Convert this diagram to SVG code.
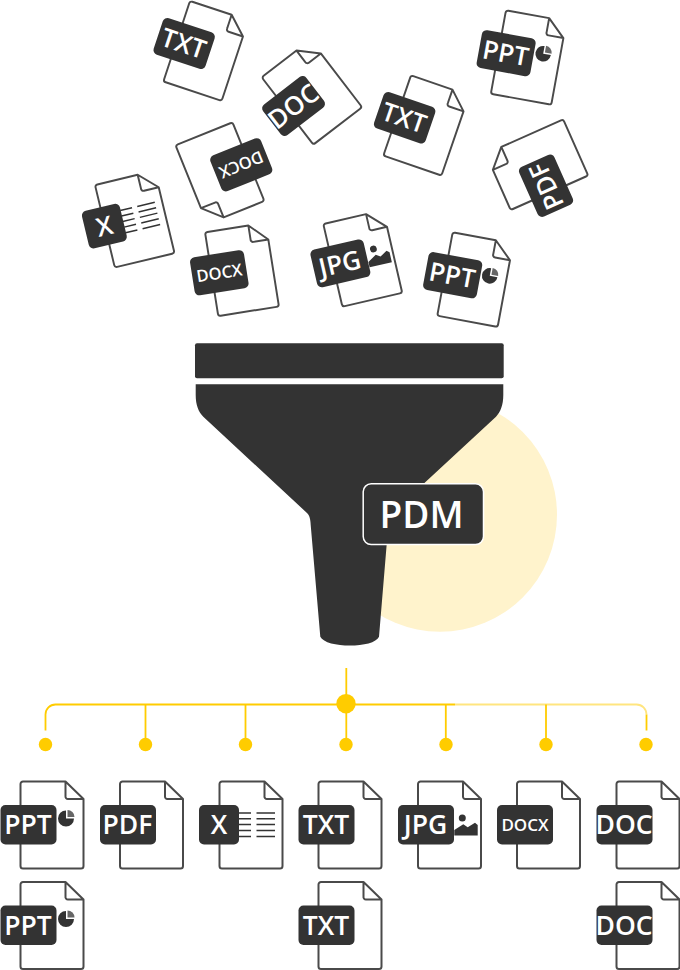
<svg xmlns="http://www.w3.org/2000/svg" width="680" height="970" viewBox="0 0 680 970">
<style>
.pg{fill:#fff;stroke:#4a4a4a;stroke-width:2;stroke-linejoin:round}
.lb{fill:#333}
.t{fill:#fff;font-family:"Open Sans",sans-serif;font-size:26.500px;font-weight:600;text-anchor:middle}
.s{font-size:17px}
.y{fill:none;stroke:#fc0;stroke-width:1.800}
.d{fill:#fc0}
.r{stroke:#333;stroke-width:1.500}
</style>
<defs>
<path id="page" class="pg" d="M2.500 0H45L63 17.500V84.500A2.500 2.500 0 0 1 60.500 87H2.500A2.500 2.500 0 0 1 0 84.500V2.500A2.500 2.500 0 0 1 2.500 0ZM45 0V14.500A2.500 2.500 0 0 0 47.500 17.500H63"/>
<rect id="wide" class="lb" x="-20" y="23.500" width="56" height="39.500" rx="5"/>
<rect id="narrow" class="lb" x="-20.500" y="23.500" width="40" height="39.500" rx="5"/>
<g id="pie"><path class="lb" d="M45.500 29V37H53.500A8 8 0 1 1 45.500 29Z"/><path fill="#666" d="M47 28.500V35.500H54A7 7 0 0 0 47 28.500Z"/></g>
<g id="rows"><path class="r" d="M19 31.500H31.500M37 31.500H55.500M19 37.300H31.500M37 37.300H55.500M19 43H31.500M37 43H55.500M19 49H31.500M37 49H55.500M19 55H31.500M37 55H55.500"/></g>
<g id="photo"><circle class="lb" cx="44.300" cy="36.500" r="3.500"/><path class="lb" d="M36.300 48.500L45.300 42.800L49.700 45.800L57 41.200L59.700 43.500V54H36.300Z"/></g>
<g id="ppt"><use href="#page"/><use href="#pie"/><use href="#wide"/><text class="t" x="7.500" y="52.800">PPT</text></g>
<g id="pdf"><use href="#page"/><use href="#wide"/><text class="t" x="7.500" y="52.800">PDF</text></g>
<g id="x"><use href="#page"/><use href="#rows"/><use href="#narrow"/><text class="t" x="-0.500" y="52.800">X</text></g>
<g id="txt"><use href="#page"/><use href="#wide"/><text class="t" x="7.500" y="52.800">TXT</text></g>
<g id="jpg"><use href="#page"/><use href="#photo"/><use href="#wide"/><text class="t" x="7.500" y="52.800">JPG</text></g>
<g id="docx"><use href="#page"/><use href="#wide"/><text class="t s" x="8" y="49.500">DOCX</text></g>
<g id="doc"><use href="#page"/><use href="#wide"/><text class="t" x="7.500" y="52.800">DOC</text></g>
</defs>

<g id="file-in-txt-1" transform="translate(190 1) rotate(18.300) scale(.975)"><use href="#txt"/></g>
<g id="file-in-doc" transform="translate(261.700 77.300) rotate(-37.500) scale(.975)"><use href="#doc"/></g>
<g id="file-in-ppt-1" transform="translate(506 10.300) rotate(10.300) scale(.975)"><use href="#ppt"/></g>
<g id="file-in-txt-2" transform="translate(411 75.300) rotate(19) scale(.975)"><use href="#txt"/></g>
<g id="file-in-docx-1" transform="translate(264.300 201) rotate(158) scale(.975)"><use href="#docx"/></g>
<g id="file-in-pdf" transform="translate(510.700 210) rotate(-114) scale(.975)"><use href="#pdf"/></g>
<g id="file-in-x" transform="translate(95 185) rotate(-13.500) scale(.975)"><use href="#x"/></g>
<g id="file-in-docx-2" transform="translate(205 232.300) rotate(-9) scale(.975)"><use href="#docx"/></g>
<g id="file-in-jpg" transform="translate(323.300 224) rotate(-13) scale(.975)"><use href="#jpg"/></g>
<g id="file-in-ppt-2" transform="translate(452.700 232.300) rotate(10.500) scale(.975)"><use href="#ppt"/></g>

<g id="funnel">
<circle cx="440" cy="514.700" r="117" fill="#fff3cc"/>
<rect x="195" y="343.300" width="308.700" height="35" rx="2" fill="#333"/>
<path fill="#333" d="M195.700 384.300H503.300V395C503.300 405 500.500 412 496 416.700L392 513C389.500 515.500 388.500 519 388.300 525L379 636.700C374 648.500 326 648.500 320.300 636.700L310.700 525C310.500 519 309.500 515.500 307 513L203.300 416.700C198.500 412 195.700 405 195.700 395Z"/>
</g>
<g id="pdm-label">
<rect x="363.200" y="483.800" width="120.300" height="60.700" rx="8" fill="#333" stroke="#fff" stroke-width="1.500"/>
<text x="421.500" y="527.700" fill="#fff" font-family="'Open Sans',sans-serif" font-size="37px" font-weight="600" text-anchor="middle">PDM</text>
</g>

<g id="connectors">
<path class="y" d="M346.300 668V745"/>
<path class="y" d="M45.500 730.500V714.500A10 10 0 0 1 55.500 704.500H455"/>
<path class="y" d="M455 704.500H636.500A10 10 0 0 1 646.500 714.500" opacity=".5"/>
<path class="y" d="M145.500 704.500V744M245.500 704.500V744M445.800 704.500V744M546 704.500V744"/>
<path class="y" d="M646.500 714.500V730.500"/>
<circle class="d" cx="346" cy="703.700" r="9.700"/>
<circle class="d" cx="45.500" cy="744.500" r="6.700"/>
<circle class="d" cx="145.500" cy="744.500" r="6.700"/>
<circle class="d" cx="245.500" cy="744.500" r="6.700"/>
<circle class="d" cx="346" cy="744.500" r="6.700"/>
<circle class="d" cx="446" cy="744.500" r="6.700"/>
<circle class="d" cx="546" cy="744.500" r="6.700"/>
<circle class="d" cx="646" cy="744.500" r="6.700"/>
</g>

<g id="file-out-ppt-1" transform="translate(20.500 781.500)"><use href="#ppt"/></g>
<g id="file-out-pdf" transform="translate(120 781.500)"><use href="#pdf"/></g>
<g id="file-out-x" transform="translate(219.500 781.500)"><use href="#x"/></g>
<g id="file-out-txt-1" transform="translate(318.500 781.500)"><use href="#txt"/></g>
<g id="file-out-jpg" transform="translate(418 781.500)"><use href="#jpg"/></g>
<g id="file-out-docx" transform="translate(517 781.500)"><use href="#docx"/></g>
<g id="file-out-doc-1" transform="translate(616.500 781.500)"><use href="#doc"/></g>
<g id="file-out-ppt-2" transform="translate(20.500 882)"><use href="#ppt"/></g>
<g id="file-out-txt-2" transform="translate(318.500 882)"><use href="#txt"/></g>
<g id="file-out-doc-2" transform="translate(616.500 882)"><use href="#doc"/></g>
</svg>
